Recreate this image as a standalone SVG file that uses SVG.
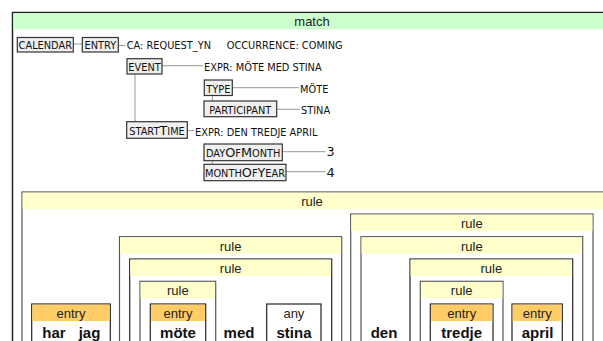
<svg xmlns="http://www.w3.org/2000/svg" width="603" height="341" viewBox="0 0 603 341">
<style>
  .sc{font-family:"DejaVu Sans",Verdana,sans-serif;font-size:9.8px;fill:#111}
  .mid{text-anchor:middle}
  .big{font-size:12.8px}
  .box{fill:#efefef;stroke:#333;stroke-width:1.2}
  #connectors line{stroke:#999;stroke-width:1}
  .hd{font-family:"Liberation Sans",Arial,sans-serif;font-size:13px;fill:#222;text-anchor:middle}
  .w{font-family:"Liberation Sans",Arial,sans-serif;font-size:15px;font-weight:bold;fill:#111;text-anchor:middle}
  .frame{fill:#fff;stroke:#555;stroke-width:1.2}
  .dark{stroke:#222}
  .rh{fill:#ffffcc}
  .eh{fill:#ffcc66}
  .gh{fill:#ccffcc}
</style>

<!-- outer match frame -->
<g id="match">
  <rect x="12.5" y="12.5" width="600" height="400" fill="#fff" stroke="#222" stroke-width="1.5"/>
  <rect class="gh" x="13.3" y="13.3" width="598" height="16"/>
  <text class="hd" x="312" y="26">match</text>
</g>

<!-- feature structure tree -->
<g id="connectors">
  <line x1="73.3" y1="44" x2="82.3" y2="44"/>
  <line x1="118.3" y1="45.5" x2="125.5" y2="45.5"/>
  <line x1="162" y1="65.7" x2="203" y2="65.7"/>
  <line x1="135" y1="74" x2="135" y2="121.7"/>
  <line x1="232.3" y1="87.7" x2="299" y2="87.7"/>
  <line x1="212.3" y1="95.5" x2="212.3" y2="101"/>
  <line x1="276.7" y1="109.3" x2="300" y2="109.3"/>
  <line x1="187.3" y1="130.7" x2="194" y2="130.7"/>
  <line x1="282.3" y1="151.7" x2="325.5" y2="151.7"/>
  <line x1="212.3" y1="160.7" x2="212.3" y2="164.3"/>
  <line x1="286" y1="171.7" x2="325.5" y2="171.7"/>
</g>

<g id="calendar">
  <rect class="box" x="17.3" y="37.5" width="56" height="14.5"/>
  <text class="sc mid" x="45.3" y="49.2">CALENDAR</text>
</g>
<g id="entry-fs">
  <rect class="box" x="82.3" y="37.5" width="36" height="14.5"/>
  <text class="sc mid" x="100.3" y="49.2">ENTRY</text>
</g>
<g id="entry-attrs">
  <text class="sc" x="126.7" y="49.3">CA: REQUEST_YN</text>
  <text class="sc" x="226.7" y="49.3">OCCURRENCE: COMING</text>
</g>
<g id="event">
  <rect class="box" x="127" y="58.7" width="35" height="15.3"/>
  <text class="sc mid" x="144.5" y="70.7">EVENT</text>
  <text class="sc" x="204" y="70.7">EXPR: MÖTE MED STINA</text>
</g>
<g id="type">
  <rect class="box" x="204.3" y="80" width="28" height="15.5"/>
  <text class="sc mid" x="218.3" y="92.5">TYPE</text>
  <text class="sc" x="300" y="92.5">MÖTE</text>
</g>
<g id="participant">
  <rect class="box" x="204" y="101" width="72.7" height="15.7"/>
  <text class="sc mid" x="240.3" y="113.5">PARTICIPANT</text>
  <text class="sc" x="301" y="113.7">STINA</text>
</g>
<g id="starttime">
  <rect class="box" x="126.7" y="121.7" width="60.6" height="16.6"/>
  <text class="sc mid" x="157" y="135.3">START<tspan class="big">T</tspan>IME</text>
  <text class="sc" x="195" y="135.7">EXPR: DEN TREDJE APRIL</text>
</g>
<g id="dayofmonth">
  <rect class="box" x="204" y="144" width="78.3" height="16.7"/>
  <text class="sc mid" x="243.2" y="157">DAY<tspan class="big">O</tspan>F<tspan class="big">M</tspan>ONTH</text>
  <text class="sc big" x="326.5" y="156">3</text>
</g>
<g id="monthofyear">
  <rect class="box" x="204" y="164.3" width="82" height="16.4"/>
  <text class="sc mid" x="245" y="177">MONTH<tspan class="big">O</tspan>F<tspan class="big">Y</tspan>EAR</text>
  <text class="sc big" x="326.5" y="176.8">4</text>
</g>

<!-- parse chart -->
<g id="rule-top">
  <rect class="frame" x="22" y="192" width="582" height="200"/>
  <rect class="rh" x="22.6" y="192.6" width="581" height="16.4"/>
  <text class="hd" x="312" y="206">rule</text>
</g>
<g id="entry-har-jag">
  <rect class="frame dark" x="31.7" y="304" width="78.6" height="80"/>
  <rect class="eh" x="32.3" y="304.6" width="77.4" height="16.4"/>
  <text class="hd" x="71" y="317.5">entry</text>
  <text class="w" x="54" y="338">har</text>
  <text class="w" x="89.5" y="338">jag</text>
</g>
<g id="rule-left">
  <rect class="frame" x="119.5" y="236.7" width="222.2" height="150"/>
  <rect class="rh" x="120.1" y="237.3" width="221" height="16.4"/>
  <text class="hd" x="230.6" y="250.7">rule</text>
</g>
<g id="rule-left-inner">
  <rect class="frame dark" x="129.7" y="259" width="202" height="120"/>
  <rect class="rh" x="130.3" y="259.6" width="200.8" height="16.4"/>
  <text class="hd" x="230.7" y="273">rule</text>
</g>
<g id="rule-mote">
  <rect class="frame" x="140" y="281.3" width="75.7" height="100"/>
  <rect class="rh" x="140.6" y="281.9" width="74.5" height="16.4"/>
  <text class="hd" x="177.8" y="295.3">rule</text>
</g>
<g id="entry-mote">
  <rect class="frame dark" x="150.3" y="304" width="55.4" height="80"/>
  <rect class="eh" x="150.9" y="304.6" width="54.2" height="16.4"/>
  <text class="hd" x="178" y="317.5">entry</text>
  <text class="w" x="178" y="338">möte</text>
</g>
<g id="word-med">
  <text class="w" x="239" y="338">med</text>
</g>
<g id="any-stina">
  <rect class="frame dark" x="266.7" y="304" width="54.3" height="80"/>
  <text class="hd" x="293.9" y="317.5">any</text>
  <text class="w" x="294" y="338">stina</text>
</g>
<g id="rule-right">
  <rect class="frame" x="350.7" y="214" width="242.3" height="170"/>
  <rect class="rh" x="351.3" y="214.6" width="241.1" height="16.4"/>
  <text class="hd" x="471.8" y="228">rule</text>
</g>
<g id="rule-right-inner">
  <rect class="frame" x="361" y="236.7" width="221.7" height="150"/>
  <rect class="rh" x="361.6" y="237.3" width="220.5" height="16.4"/>
  <text class="hd" x="471.8" y="250.7">rule</text>
</g>
<g id="word-den">
  <text class="w" x="384" y="338">den</text>
</g>
<g id="rule-date">
  <rect class="frame dark" x="410" y="259" width="162.7" height="120"/>
  <rect class="rh" x="410.6" y="259.6" width="161.5" height="16.4"/>
  <text class="hd" x="491.3" y="273">rule</text>
</g>
<g id="rule-tredje">
  <rect class="frame" x="420.3" y="281.3" width="82.7" height="100"/>
  <rect class="rh" x="420.9" y="281.9" width="81.5" height="16.4"/>
  <text class="hd" x="461.7" y="295.3">rule</text>
</g>
<g id="entry-tredje">
  <rect class="frame dark" x="430.3" y="304" width="62.7" height="80"/>
  <rect class="eh" x="430.9" y="304.6" width="61.5" height="16.4"/>
  <text class="hd" x="461.7" y="317.5">entry</text>
  <text class="w" x="461.7" y="338">tredje</text>
</g>
<g id="entry-april">
  <rect class="frame dark" x="512" y="304" width="50.3" height="80"/>
  <rect class="eh" x="512.6" y="304.6" width="49.1" height="16.4"/>
  <text class="hd" x="537.2" y="317.5">entry</text>
  <text class="w" x="537.5" y="338">april</text>
</g>
</svg>
